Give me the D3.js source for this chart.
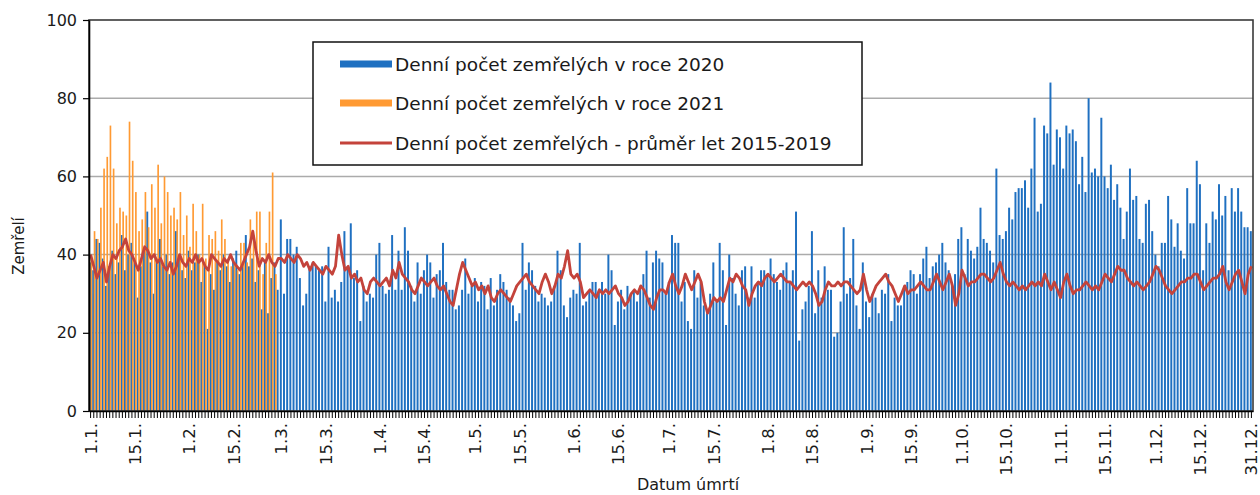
<!DOCTYPE html>
<html lang="cs">
<head>
<meta charset="utf-8">
<script src="https://cdn.jsdelivr.net/npm/d3@7"></script>
<style>
  html, body { margin: 0; padding: 0; background: #fff; }
  svg { display: block; font-family: "DejaVu Sans", Verdana, sans-serif; }
</style>
</head>
<body>
<svg id="chart" width="1260" height="495"></svg>
<script>
// denní počet zemřelých v roce 2020 (1.1. - 31.12., přestupný rok)
const deaths2020 = [
  38,36,44,43,39,32,37,41,35,38, 45,36,40,43,38,29,37,41,51,38,
  30,39,44,37,40,35,38,46,39,36, 34,41,36,38,40,33,37,21,35,31,
  38,36,40,37,33,39,41,35,38,45, 37,39,33,36,26,38,25,34,38,31,
  49,30,44,44,40,42,34,27,30,37, 38,37,36,37,28,42,29,31,28,33,
  46,37,48,34,36,23,32,28,30,29, 40,43,32,30,31,45,31,41,31,47,
  41,32,28,38,30,36,40,38,29,35, 36,43,33,31,31,26,27,31,39,30,
  32,34,28,33,32,26,34,27,31,35, 33,31,29,27,23,25,43,31,38,36,
  32,28,30,29,27,28,32,41,36,27, 24,29,31,30,43,27,28,31,33,33,
  31,33,30,40,36,22,28,31,26,32, 30,31,28,32,35,41,29,38,41,39,
  38,30,33,45,43,43,28,33,23,21, 36,29,33,27,25,30,38,28,43,36,
  22,40,34,30,27,36,37,29,37,29, 33,36,36,35,39,35,33,31,36,38,
  33,36,51,18,26,28,32,46,25,36, 29,37,31,31,19,20,28,47,30,34,
  44,27,21,38,28,24,30,29,25,31, 30,35,23,29,27,27,32,33,36,35,
  30,35,39,42,34,37,38,40,43,38, 36,33,35,44,47,35,44,41,39,42,
  52,44,43,41,38,62,45,44,46,52, 49,56,57,57,59,52,62,75,51,53,
  73,71,84,63,72,70,62,73,71,72, 69,58,65,56,80,61,62,60,75,60,
  57,63,54,58,52,44,51,62,54,55, 44,43,53,54,46,40,37,43,43,55,
  49,42,48,41,39,57,48,48,64,58, 36,48,43,51,49,58,50,55,36,57,
  51,57,51,47,47,46
];

// denní počet zemřelých v roce 2021 (1.1. - 28.2.)
const deaths2021 = [
  40,46,44,52,62,65,73,62,48,52, 51,50,74,64,56,46,49,56,47,58,
  52,63,48,60,56,50,52,49,56,45, 50,42,53,46,40,53,39,45,44,46,
  41,49,44,39,37,38,36,43,43,38, 49,45,51,51,35,43,51,61,35
];

// průměr let 2015-2019
const avg2015_2019 = [
  40,37,34,36,38,33,37,40,39,41, 42,44,41,40,38,36,39,42,41,39,
  40,38,39,37,36,38,35,37,40,38, 37,39,38,40,38,39,37,36,40,39,
  38,37,39,38,40,38,37,36,38,40, 42,46,41,37,39,38,40,38,37,39,
  39,38,40,39,38,40,39,37,38,36, 38,37,36,35,37,36,35,37,45,40,
  36,37,34,35,33,34,31,30,33,34, 33,32,33,34,32,36,34,38,35,34,
  33,31,30,32,34,33,32,33,34,32, 31,32,30,28,27,31,35,38,36,34,
  32,33,31,32,30,32,29,28,30,31, 30,29,28,30,32,33,34,35,33,32,
  31,30,33,35,33,30,32,35,34,37, 41,35,34,35,33,29,30,31,30,29,
  31,30,31,30,31,32,30,29,27,28, 30,31,30,32,31,29,27,26,29,31,
  31,30,33,35,32,30,32,35,33,31, 33,35,33,28,25,27,29,28,29,28,
  31,34,33,35,34,32,31,27,30,32, 33,32,34,35,34,33,34,35,34,33,
  33,32,31,32,33,32,33,32,30,27, 28,31,33,32,32,33,32,33,33,32,
  31,30,31,35,31,28,30,32,33,34, 35,33,32,30,28,30,32,30,31,31,
  32,33,32,31,31,33,35,33,31,33, 35,32,27,30,36,34,32,33,33,34,
  35,35,34,33,34,36,38,35,33,32, 33,32,31,32,31,32,33,32,33,32,
  35,33,31,33,31,29,33,35,32,30, 31,31,32,33,32,31,32,31,33,35,
  34,33,35,37,36,36,34,33,32,33, 32,31,32,33,35,37,36,34,32,31,
  30,31,32,33,33,34,34,35,35,33, 31,32,33,34,34,35,37,33,31,33,
  35,36,33,30,35,37
];

// popisky osy x (pořadí dne v roce 2020)
const tickDays = [0, 14, 31, 45, 60, 74, 91, 105, 121, 135, 152, 166, 182,
                  196, 213, 227, 244, 258, 274, 288, 305, 319, 335, 349, 365];
const tickLabels = ["1.1.", "15.1.", "1.2.", "15.2.", "1.3.", "15.3.", "1.4.", "15.4.",
                    "1.5.", "15.5.", "1.6.", "15.6.", "1.7.", "15.7.", "1.8.", "15.8.",
                    "1.9.", "15.9.", "1.10.", "15.10.", "1.11.", "15.11.", "1.12.",
                    "15.12.", "31.12."];
const yTicks = [0, 20, 40, 60, 80, 100];

const legendLabels = [
    "Denní počet zemřelých v roce 2020",
    "Denní počet zemřelých v roce 2021",
    "Denní počet zemřelých - průměr let 2015-2019"
];

const colors = { y2020: "#1f70c1", y2021: "#ff9a33", avg: "#c4433b" };

const plot = { left: 89, right: 1253, top: 20, bottom: 411 };
const svg = d3.select('#chart');

const days = deaths2020.map((d, i) => i);
const x = d3.scaleBand()
    .domain(days)
    .range([plot.left, plot.right])
    .paddingInner(0)
    .paddingOuter(0);
const y = d3.scaleLinear()
    .domain([0, 100])
    .range([plot.bottom, plot.top]);
const bw = x.bandwidth();

// mřížka
svg.append('g')
    .selectAll('line')
    .data(yTicks.filter(v => v > 0 && v < 100))
    .join('line')
    .attr('x1', plot.left).attr('x2', plot.right)
    .attr('y1', d => y(d)).attr('y2', d => y(d))
    .attr('stroke', '#ababab')
    .attr('stroke-width', 1.5);

// sloupce 2020
svg.append('g')
    .selectAll('rect')
    .data(deaths2020)
    .join('rect')
    .attr('x', (d, i) => x(i))
    .attr('width', bw * 0.62)
    .attr('y', d => y(d))
    .attr('height', d => y(0) - y(d))
    .attr('fill', colors.y2020);

// sloupce 2021
svg.append('g')
    .selectAll('rect')
    .data(deaths2021)
    .join('rect')
    .attr('x', (d, i) => x(i) + bw * 0.48)
    .attr('width', bw * 0.52)
    .attr('y', d => y(d))
    .attr('height', d => y(0) - y(d))
    .attr('fill', colors.y2021);

// průměr 2015-2019
const line = d3.line()
    .x((d, i) => x(i) + bw / 2)
    .y(d => y(d));
svg.append('path')
    .datum(avg2015_2019)
    .attr('d', line)
    .attr('fill', 'none')
    .attr('stroke', colors.avg)
    .attr('stroke-width', 2.8)
    .attr('stroke-linejoin', 'round');

// rámeček grafu
svg.append('rect')
    .attr('x', plot.left).attr('y', plot.top)
    .attr('width', plot.right - plot.left)
    .attr('height', plot.bottom - plot.top)
    .attr('fill', 'none')
    .attr('stroke', '#3a3a3a')
    .attr('stroke-width', 1.6);

// osa y
const yAxis = svg.append('g')
    .attr('transform', `translate(${plot.left},0)`)
    .call(d3.axisLeft(y).tickValues(yTicks).tickSize(6).tickSizeOuter(0).tickPadding(6));
yAxis.select('.domain').attr('stroke', '#000').attr('stroke-width', 1.6);
yAxis.selectAll('.tick line').attr('stroke', '#000').attr('stroke-width', 1.2);
yAxis.selectAll('text')
    .attr('font-size', '16px')
    .attr('font-family', '"DejaVu Sans", Verdana, sans-serif')
    .attr('fill', '#1a1a1a');

// osa x - značky pro každý den
const xTicks = svg.append('g')
    .attr('transform', `translate(0,${plot.bottom})`)
    .call(d3.axisBottom(x).tickSize(7).tickSizeOuter(0).tickFormat(''));
xTicks.select('.domain').attr('stroke', '#000').attr('stroke-width', 1.6);
xTicks.selectAll('.tick line').attr('stroke', '#000').attr('stroke-width', 1);

// osa x - popisky
const xLabels = svg.append('g')
    .attr('transform', `translate(0,${plot.bottom})`)
    .call(d3.axisBottom(x).tickValues(tickDays).tickSize(0)
        .tickFormat((d, i) => tickLabels[i]));
xLabels.select('.domain').remove();
xLabels.selectAll('text')
    .attr('transform', 'rotate(-90)')
    .attr('text-anchor', 'end')
    .attr('x', -12)
    .attr('y', 0)
    .attr('dy', '0.36em')
    .attr('font-size', '16.5px')
    .attr('font-family', '"DejaVu Sans", Verdana, sans-serif')
    .attr('fill', '#1a1a1a');

// názvy os
svg.append('text')
    .attr('transform', 'translate(24,246) rotate(-90)')
    .attr('text-anchor', 'middle')
    .attr('font-size', '15px')
    .attr('fill', '#1a1a1a')
    .text('Zemřelí');
svg.append('text')
    .attr('x', 688).attr('y', 490)
    .attr('text-anchor', 'middle')
    .attr('font-size', '16px')
    .attr('fill', '#1a1a1a')
    .text('Datum úmrtí');

// legenda
const legend = svg.append('g');
legend.append('rect')
    .attr('x', 313).attr('y', 42)
    .attr('width', 549).attr('height', 123)
    .attr('fill', '#fff')
    .attr('stroke', '#111')
    .attr('stroke-width', 1.5);

const rows = [64, 103, 143];
legend.append('rect')
    .attr('x', 340).attr('y', rows[0] - 3.5)
    .attr('width', 52).attr('height', 7)
    .attr('fill', colors.y2020);
legend.append('rect')
    .attr('x', 340).attr('y', rows[1] - 3.5)
    .attr('width', 52).attr('height', 7)
    .attr('fill', colors.y2021);
legend.append('line')
    .attr('x1', 340).attr('x2', 392)
    .attr('y1', rows[2]).attr('y2', rows[2])
    .attr('stroke', colors.avg)
    .attr('stroke-width', 2.8);

legend.selectAll('text.lbl')
    .data(legendLabels)
    .join('text')
    .attr('class', 'lbl')
    .attr('x', 395)
    .attr('y', (d, i) => rows[i])
    .attr('dy', '0.36em')
    .attr('font-size', '18.5px')
    .attr('fill', '#1a1a1a')
    .text(d => d);
</script>
</body>
</html>
